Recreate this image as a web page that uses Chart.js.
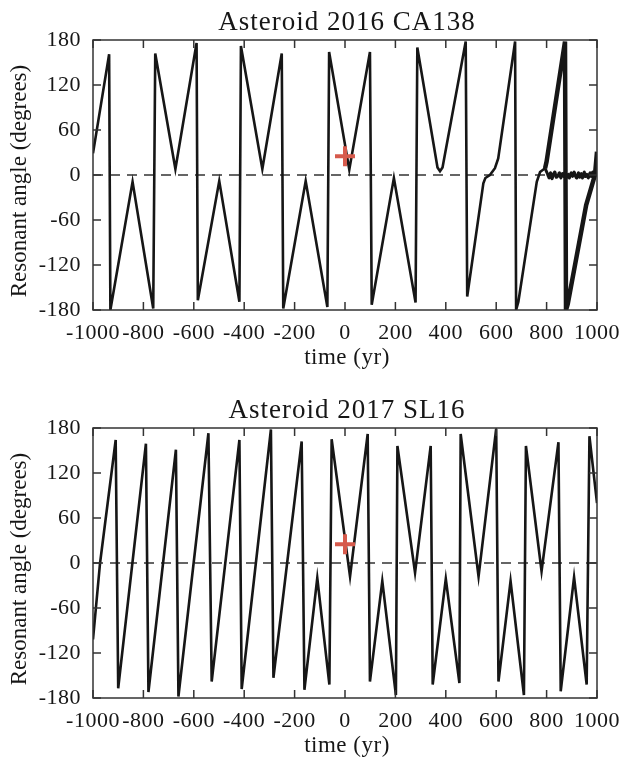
<!DOCTYPE html>
<html>
<head>
<meta charset="utf-8">
<title>Resonant angle</title>
<script src="https://cdn.jsdelivr.net/npm/chart.js@4.4.0/dist/chart.umd.min.js"></script>
<style>
  html, body { margin: 0; padding: 0; background: #fff; overflow: hidden; }
  canvas { display: block; }
</style>
</head>
<body>
<canvas id="chartCA138" width="621" height="388"></canvas>
<canvas id="chartSL16" width="621" height="388"></canvas>
<script>
// ========================================
// DATA
// ========================================
const timeTicks = [-1000, -800, -600, -400, -200, 0, 200, 400, 600, 800, 1000];
const angleTicks = [-180, -120, -60, 0, 60, 120, 180];

// 2016 CA138, nominal orbit until the clones split (~800 yr)
const caTime = [-1000, -936, -931, -843, -761, -753, -673, -589, -584, -499, -419, -413, -328, -251, -245,
    -156, -70, -63, 17, 99, 106, 194, 280, 287, 367, 377, 387, 479, 485, 549, 557, 575, 595, 608, 675, 679,
    688, 761, 774, 794];
const caAngle = [29, 161, -180, -9, -178, 162, 8, 176, -167, -8, -169, 172, 8, 162, -178,
    -8, -176, 164, 7, 164, -173, -4, -170, 170, 10, 5, 10, 178, -162, -11, -4, 0, 9, 22, 178, -180,
    -169, -9, 4, 9];

// clone that stays librating around 0
const caLibTime = [794, 803, 810, 816, 821, 827, 833, 838, 845, 851, 856, 862, 869, 874, 880, 886, 891,
    897, 903, 909, 914, 920, 926, 931, 937, 943, 949, 954, 960, 966, 972, 977, 983, 989, 995, 1000];
const caLibAngle = [9, 2, -4, 3, -5, 1, 4, -3, -1, 3, -4, 2, -2, 4, -3, 1, -4,
    3, -2, 4, -1, -4, 3, -3, 2, -4, 4, -2, 1, -4, 3, -2, 4, -3, 2, -1];

// clones that go back to circulation
const caCircTime = [794, 800, 873, 877, 884, 957, 992, 1000];
const caCircAngle = [9, 18, 178, -180, -172, -40, 0, 31];

// 2017 SL16
const slTime = [-1000, -972, -910, -900, -790, -780, -671, -661, -542, -529, -419, -410, -294, -284,
    -172, -161, -110, -62, -53, 20, 90, 99, 148, 202, 208, 278, 340, 348, 400, 454, 459, 530, 600,
    609, 657, 710, 718, 780, 847, 856, 909, 959, 970, 1000];
const slAngle = [-102, 0, 164, -167, 159, -172, 151, -178, 173, -158, 164, -168, 178, -153,
    162, -169, -20, -162, 165, -18, 172, -158, -24, -176, 156, -13, 156, -162, -21, -160, 172, -18, 179,
    -158, -24, -176, 156, -11, 161, -171, -19, -162, 169, 80];

// present epoch
const nowTime = [0];
const nowAngle = [25];

// ========================================
// HELPERS
// ========================================
const SERIF = "'Liberation Serif', 'Times New Roman', serif";
const INK = '#161616';

function toPoints(xs, ys) {
    return xs.map((x, i) => ({ x: x, y: ys[i] }));
}

function curve(xs, ys, width, tension) {
    return {
        data: toPoints(xs, ys),
        borderColor: INK,
        borderWidth: width,
        pointRadius: 0,
        tension: tension || 0,
        fill: false,
        order: 2
    };
}

// slightly wider glyph spacing for every label the chart draws
const serifSpacing = {
    id: 'serifSpacing',
    beforeLayout(chart) { chart.ctx.letterSpacing = '0.5px'; },
    beforeDraw(chart) { chart.ctx.letterSpacing = '0.5px'; }
};

// box, inward tick marks, title and axis captions
function panelDecor(title) {
    return {
        id: 'panelDecor',
        afterDraw(chart) {
            const ctx = chart.ctx;
            const a = chart.chartArea;
            const xs = chart.scales.x;
            const ys = chart.scales.y;
            const tick = 8;

            ctx.save();
            ctx.strokeStyle = '#333';
            ctx.lineWidth = 1.5;
            ctx.strokeRect(a.left, a.top, a.right - a.left, a.bottom - a.top);

            ctx.beginPath();
            timeTicks.forEach(t => {
                const px = xs.getPixelForValue(t);
                ctx.moveTo(px, a.bottom); ctx.lineTo(px, a.bottom - tick);
                ctx.moveTo(px, a.top); ctx.lineTo(px, a.top + tick);
            });
            angleTicks.forEach(v => {
                const py = ys.getPixelForValue(v);
                ctx.moveTo(a.left, py); ctx.lineTo(a.left + tick, py);
                ctx.moveTo(a.right, py); ctx.lineTo(a.right - tick, py);
            });
            ctx.stroke();

            ctx.fillStyle = INK;
            ctx.textAlign = 'center';
            ctx.textBaseline = 'alphabetic';

            ctx.letterSpacing = '1px';
            ctx.font = '27px ' + SERIF;
            ctx.fillText(title, (a.left + a.right) / 2 + 2, 30);

            ctx.letterSpacing = '0.5px';
            ctx.font = '23px ' + SERIF;
            ctx.textBaseline = 'middle';
            ctx.fillText('time (yr)', (a.left + a.right) / 2 + 2, 358);

            ctx.letterSpacing = '0px';
            ctx.translate(20, (a.top + a.bottom) / 2 + 6);
            ctx.rotate(-Math.PI / 2);
            ctx.fillText('Resonant angle (degrees)', 0, 0);
            ctx.restore();
        }
    };
}

// ========================================
// CHART
// ========================================
function makePanel(canvasId, title, datasets) {
    const ctx = document.getElementById(canvasId);

    // dashed zero reference line
    datasets.push({
        data: toPoints([-1000, 1000], [0, 0]),
        borderColor: '#333',
        borderWidth: 1.5,
        borderDash: [10, 7],
        pointRadius: 0,
        fill: false,
        order: 3
    });

    // present position
    datasets.push({
        data: toPoints(nowTime, nowAngle),
        showLine: false,
        pointStyle: 'cross',
        pointRadius: 10,
        pointBorderWidth: 4,
        pointBorderColor: '#d65a4c',
        order: 1
    });

    return new Chart(ctx, {
        type: 'line',
        data: { datasets: datasets },
        options: {
            responsive: false,
            animation: false,
            events: [],
            layout: { padding: { left: 0, right: 24, top: 40, bottom: 0 } },
            plugins: {
                legend: { display: false },
                tooltip: { enabled: false },
                title: { display: false }
            },
            scales: {
                x: {
                    type: 'linear',
                    min: -1000,
                    max: 1000,
                    afterBuildTicks: s => { s.ticks = timeTicks.map(v => ({ value: v })); },
                    afterFit: s => { s.height = 78; s.paddingLeft = 0; s.paddingRight = 0; },
                    grid: { display: false, drawTicks: false },
                    border: { display: false },
                    ticks: {
                        color: INK,
                        padding: 10,
                        maxRotation: 0,
                        autoSkip: false,
                        font: { family: SERIF, size: 22 },
                        callback: v => String(v)
                    }
                },
                y: {
                    min: -180,
                    max: 180,
                    afterBuildTicks: s => { s.ticks = angleTicks.map(v => ({ value: v })); },
                    afterFit: s => { s.width = 93; },
                    grid: { display: false, drawTicks: false },
                    border: { display: false },
                    ticks: {
                        color: INK,
                        padding: 12,
                        font: { family: SERIF, size: 22 },
                        callback: v => String(v)
                    }
                }
            }
        },
        plugins: [serifSpacing, panelDecor(title)]
    });
}

makePanel('chartCA138', 'Asteroid 2016 CA138', [
    curve(caTime, caAngle, 2.6),
    curve(caLibTime, caLibAngle, 3, 0.35),
    curve(caCircTime, caCircAngle, 4.5)
]);

makePanel('chartSL16', 'Asteroid 2017 SL16', [
    curve(slTime, slAngle, 2.6)
]);
</script>
</body>
</html>
